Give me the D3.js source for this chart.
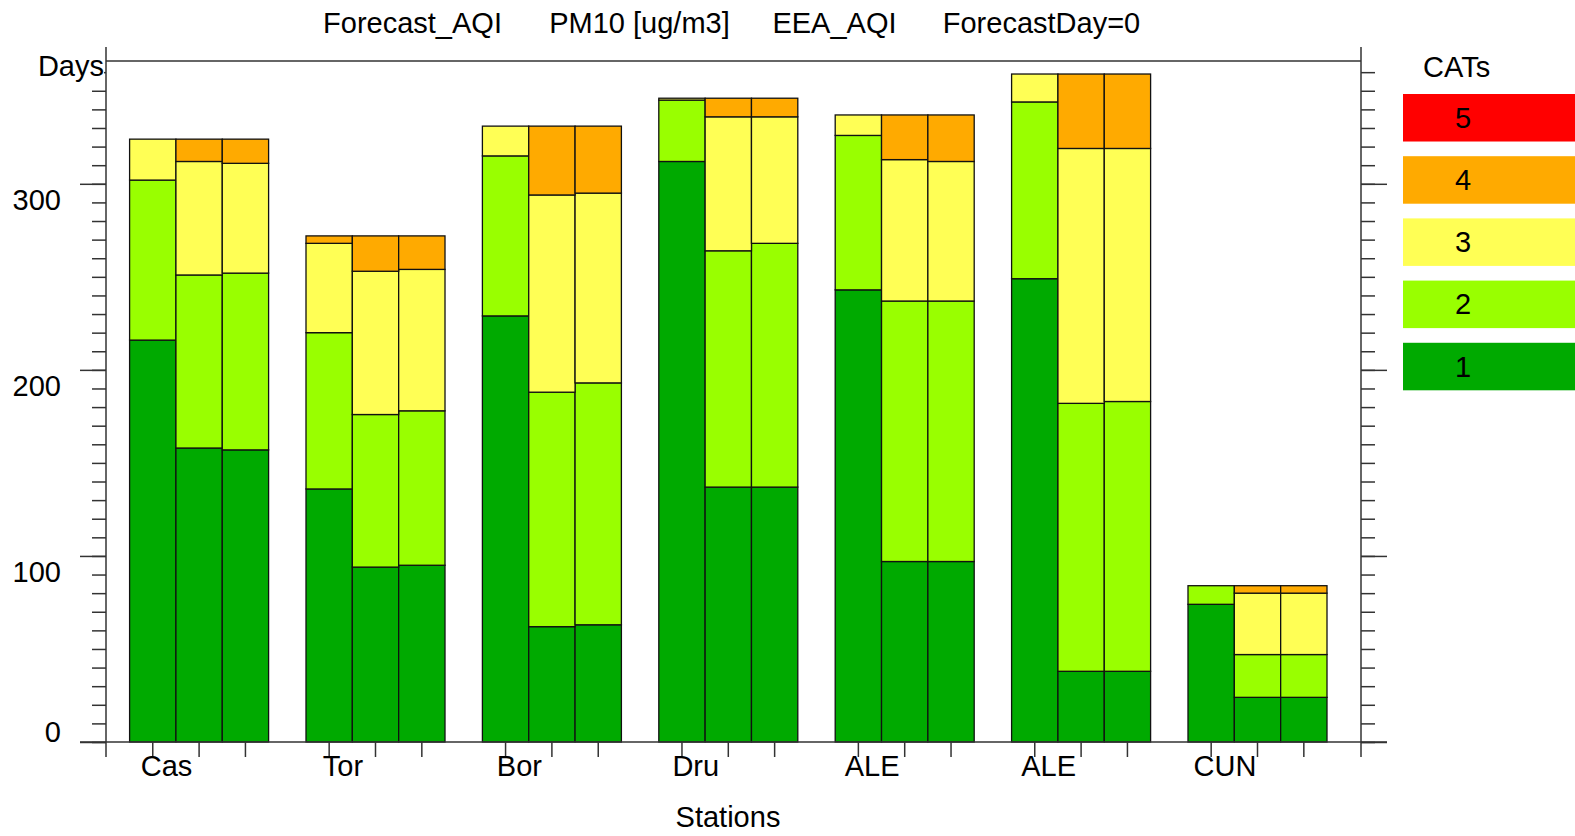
<!DOCTYPE html>
<html>
<head>
<meta charset="utf-8">
<script src="https://cdn.jsdelivr.net/npm/d3@7"></script>
<style>
  body { margin: 0; background: #fff; }
  text { font-family: "Liberation Sans", Arial, sans-serif; font-size: 29px; fill: #000; }
</style>
</head>
<body>
<div id="chart"></div>
<script>
// stations (x groups), 3 bars per station
var stations = ["Cas", "Tor", "Bor", "Dru", "ALE", "ALE", "CUN"];
var cats = ["1", "2", "3", "4", "5"];
var catColors = ["#00aa00", "#99ff00", "#ffff55", "#ffaa00", "#ff0000"];
var titles = ["Forecast_AQI", "PM10 [ug/m3]", "EEA_AQI", "ForecastDay=0"];
var yMajor = [0, 100, 200, 300];

// days per category, [station][bar]
var cat1 = [[216, 158, 157], [136, 94, 95], [229, 62, 63], [312, 137, 137], [243, 97, 97], [249, 38, 38], [74, 24, 24]];
var cat2 = [[86, 93, 95], [84, 82, 83], [86, 126, 130], [33, 127, 131], [83, 140, 140], [95, 144, 145], [10, 23, 23]];
var cat3 = [[22, 61, 59], [48, 77, 76], [16, 106, 102], [1, 72, 68], [11, 76, 75], [15, 137, 136], [0, 33, 33]];
var cat4 = [[0, 12, 13], [4, 19, 18], [0, 37, 36], [0, 10, 10], [0, 24, 25], [0, 40, 40], [0, 4, 4]];
var cat5 = [[0, 0, 0], [0, 0, 0], [0, 0, 0], [0, 0, 0], [0, 0, 0], [0, 0, 0], [0, 0, 0]];

var width = 1575, height = 836;
var plotLeft = 106, plotRight = 1361, plotTop = 61, plotBase = 742;

var svg = d3.select("#chart").append("svg")
  .attr("width", width)
  .attr("height", height);

// flatten into one row per bar
var rows = [];
stations.forEach(function (s, i) {
  for (var j = 0; j < 3; j++) {
    rows.push({ st: i, bar: j, "1": cat1[i][j], "2": cat2[i][j], "3": cat3[i][j], "4": cat4[i][j], "5": cat5[i][j] });
  }
});
var series = d3.stack().keys(cats)(rows);

var x = d3.scaleBand()
  .domain(d3.range(stations.length))
  .range([129.6, 1327])
  .paddingInner(0.212);
var sub = d3.scaleBand()
  .domain([0, 1, 2])
  .range([0, x.bandwidth()]);
var y = d3.scaleLinear()
  .domain([0, 366])
  .range([plotBase, plotTop]);
var color = d3.scaleOrdinal().domain(cats).range(catColors);

// bars
series.forEach(function (ser) {
  svg.append("g")
    .selectAll("rect")
    .data(ser.filter(function (d) { return d[1] > d[0]; }))
    .enter()
    .append("rect")
    .attr("x", function (d) { return x(d.data.st) + sub(d.data.bar); })
    .attr("width", sub.bandwidth())
    .attr("y", function (d) { return y(d[1]); })
    .attr("height", function (d) { return y(d[0]) - y(d[1]); })
    .attr("fill", color(ser.key))
    .attr("stroke", "#111")
    .attr("stroke-width", 1.3);
});

// frame lines
var axisColor = "#333";
svg.append("line").attr("x1", plotLeft).attr("x2", plotRight).attr("y1", plotTop).attr("y2", plotTop)
  .attr("stroke", axisColor).attr("stroke-width", 1.5);
svg.append("line").attr("x1", 80).attr("x2", 1387).attr("y1", plotBase).attr("y2", plotBase)
  .attr("stroke", axisColor).attr("stroke-width", 1.5);
[plotLeft, plotRight].forEach(function (xx) {
  svg.append("line").attr("x1", xx).attr("x2", xx).attr("y1", 47).attr("y2", 757)
    .attr("stroke", axisColor).attr("stroke-width", 1.5);
});

// y axes: minor + major ticks, both sides
function styleAxis(g) {
  g.select(".domain").remove();
  g.selectAll("line").attr("stroke", axisColor).attr("stroke-width", 1.5);
}
var minorVals = d3.range(0, 361, 10);
svg.append("g").attr("transform", `translate(${plotLeft},0)`)
  .call(d3.axisLeft(y).tickValues(minorVals).tickSize(14).tickFormat(""))
  .call(styleAxis);
svg.append("g").attr("transform", `translate(${plotRight},0)`)
  .call(d3.axisRight(y).tickValues(minorVals).tickSize(14).tickFormat(""))
  .call(styleAxis);
svg.append("g").attr("transform", `translate(${plotRight},0)`)
  .call(d3.axisRight(y).tickValues(yMajor).tickSize(26).tickFormat(""))
  .call(styleAxis);
var yl = svg.append("g").attr("transform", `translate(${plotLeft},0)`)
  .call(d3.axisLeft(y).tickValues(yMajor).tickSize(26).tickPadding(19))
  .call(styleAxis);
yl.attr("font-family", null).attr("font-size", null);
yl.selectAll("text")
  .attr("fill", "#000")
  .attr("dy", function (d) { return d === 0 ? "-0.03em" : "0.88em"; });

// Days label (covers the top tick)
var days = svg.append("text").attr("x", 104).attr("y", 76)
  .attr("text-anchor", "end").text("Days");
var bb = days.node().getBBox();
svg.insert("rect", function () { return days.node(); })
  .attr("x", bb.x).attr("y", bb.y + 3).attr("width", bb.width).attr("height", bb.height - 6)
  .attr("fill", "#fff");

// x ticks at each bar centre, station labels
rows.forEach(function (r) {
  var cx = x(r.st) + sub(r.bar) + sub.bandwidth() / 2;
  svg.append("line").attr("x1", cx).attr("x2", cx).attr("y1", plotBase).attr("y2", 757)
    .attr("stroke", axisColor).attr("stroke-width", 1.5);
});
svg.append("g")
  .selectAll("text")
  .data(stations)
  .enter()
  .append("text")
  .attr("x", function (d, i) { return x(i) + 37; })
  .attr("y", 776)
  .attr("text-anchor", "middle")
  .text(function (d) { return d; });

svg.append("text").attr("x", 728).attr("y", 827)
  .attr("text-anchor", "middle").text("Stations");

// title
var titleCenters = [412.5, 639.5, 834.5, 1041.5];
svg.append("g")
  .selectAll("text")
  .data(titles)
  .enter()
  .append("text")
  .attr("x", function (d, i) { return titleCenters[i]; })
  .attr("y", 33)
  .attr("text-anchor", "middle")
  .text(function (d) { return d; });

// legend
svg.append("text").attr("x", 1423).attr("y", 77).text("CATs");
var ly = d3.scaleBand()
  .domain(cats.slice().reverse())
  .range([94, 390.3])
  .paddingInner(0.236);
var leg = svg.append("g")
  .selectAll("g")
  .data(cats.slice().reverse())
  .enter()
  .append("g");
leg.append("rect")
  .attr("x", 1403)
  .attr("y", function (d) { return ly(d); })
  .attr("width", 172)
  .attr("height", ly.bandwidth())
  .attr("fill", function (d) { return color(d); });
leg.append("text")
  .attr("x", 1463)
  .attr("y", function (d) { return ly(d) + ly.bandwidth() / 2; })
  .attr("dy", "0.35em")
  .attr("text-anchor", "middle")
  .text(function (d) { return d; });
</script>
</body>
</html>
